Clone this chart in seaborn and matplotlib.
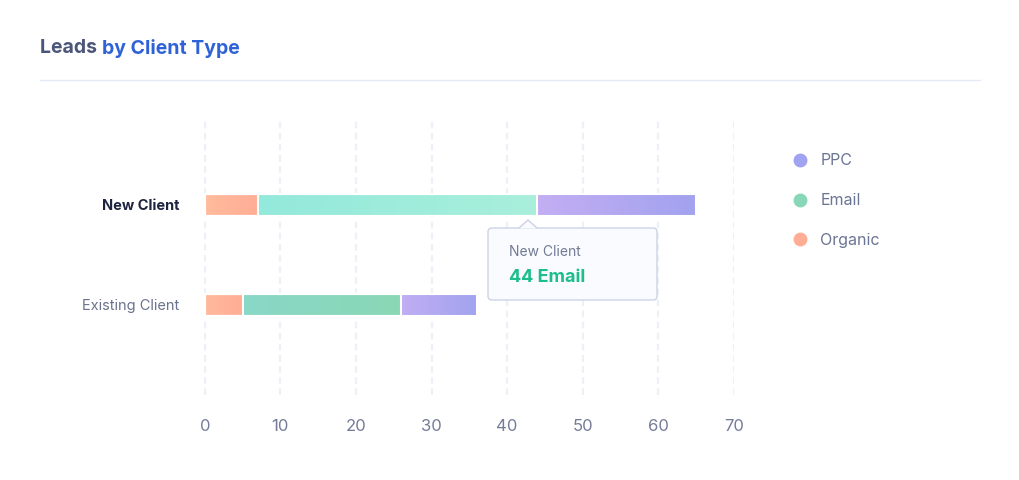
import numpy as np
import pandas as pd
import matplotlib.pyplot as plt
from matplotlib.colors import LinearSegmentedColormap
from matplotlib.patches import FancyBboxPatch, Polygon
from matplotlib.lines import Line2D
from matplotlib.transforms import IdentityTransform
import seaborn as sns

# data
clients = ['New Client', 'Existing Client']
organic = [7, 5]
email = [37, 21]
ppc = [21, 10]
xticks = [0, 10, 20, 30, 40, 50, 60, 70]
legend_names = ['PPC', 'Email', 'Organic']

# gradient colours per segment (left, right), one pair per client
organic_cols = [('#ffbb9c', '#ffad96'), ('#ffb99b', '#ffad96')]
email_cols = [('#93e9db', '#a9efdc'), ('#89d7c7', '#8ad8b5')]
ppc_cols = [('#c3aef3', '#a2a2ef'), ('#c0aef3', '#a2a3ef')]
legend_cols = ['#a0a3f0', '#88d8b8', '#ffae95']

sns.set_theme(style='white')
plt.rcParams['font.family'] = ['Inter', 'DejaVu Sans']

df = pd.DataFrame({'client': clients, 'Organic': organic, 'Email': email, 'PPC': ppc})
df['org_end'] = df['Organic']
df['email_end'] = df['Organic'] + df['Email']
df['ppc_end'] = df['email_end'] + df['PPC']

W, H = 1020, 480
fig = plt.figure(figsize=(W / 100, H / 100), dpi=100)
ax = fig.add_axes([204 / W, 1 - 395 / H, 530 / W, 276 / H])

# stacked bars: draw cumulative totals back to front
layers = [('ppc_end', 'email_end', ppc_cols),
          ('email_end', 'org_end', email_cols),
          ('org_end', None, organic_cols)]
for end_col, start_col, cols in layers:
    n0 = len(ax.patches)
    sns.barplot(data=df, x=end_col, y='client', ax=ax, width=0.215,
                color='white', edgecolor='white', linewidth=1.5, zorder=3)
    new = ax.patches[n0:]
    for i, p in enumerate(new):
        p.set_facecolor('none')
        p.set_zorder(4)
        x0 = 0 if start_col is None else df[start_col].iloc[i]
        x1 = df[end_col].iloc[i]
        bb = p.get_bbox()
        cmap = LinearSegmentedColormap.from_list('g', cols[i])
        grad = np.linspace(0, 1, 256).reshape(1, -1)
        im = ax.imshow(grad, cmap=cmap, aspect='auto', zorder=3,
                       extent=[x0, x1, bb.y1, bb.y0], interpolation='bilinear')
        im.set_clip_path(p)

ax.set_xlim(-0.1, 70)
ax.set_ylim(1.9, -0.86)
ax.set_xticks(xticks)
ax.set_xlabel('')
ax.set_ylabel('')
for s in ax.spines.values():
    s.set_visible(False)
ax.grid(axis='x', color='#edf0f7', linestyle=(0, (3, 2)), linewidth=1.6, zorder=0)
ax.grid(axis='y', visible=False)
ax.tick_params(axis='x', length=0, pad=17, labelsize=12, labelcolor='#747c98')
ax.tick_params(axis='y', length=0, pad=18, labelsize=10.5)
ylabels = ax.get_yticklabels()
ylabels[0].set_color('#1e2340')
ylabels[0].set_fontweight('bold')
ylabels[1].set_color('#6b728c')

# legend
handles = [Line2D([], [], marker='o', ls='', color=c, markersize=9) for c in legend_cols]
fig.legend(handles, legend_names, loc='upper left',
           bbox_to_anchor=(770 / W, 1 - 139 / H), frameon=False,
           labelspacing=1.55, handletextpad=0.25, fontsize=11.5, labelcolor='#6b7594')

# title
t1 = fig.text(40 / W, 1 - 48 / H, 'Leads ', fontsize=14, fontweight='bold',
              color='#4b5679', va='center', ha='left')
fig.canvas.draw()
bb1 = t1.get_window_extent()
fig.text(bb1.x1 / W, 1 - 48 / H, 'by Client Type', fontsize=14, fontweight='bold',
         color='#2f62d6', va='center', ha='left')
fig.add_artist(Line2D([40 / W, 980 / W], [1 - 80 / H, 1 - 80 / H],
                      color='#e3ebf6', lw=1, transform=fig.transFigure))

# tooltip
tip_face = '#f9fbfe'
tip_edge = '#cdd3e6'
box = FancyBboxPatch((488, H - 300), 169, 72, boxstyle='round,pad=0,rounding_size=4',
                     facecolor=tip_face, edgecolor=tip_edge, lw=1,
                     transform=IdentityTransform(), zorder=10)
fig.add_artist(box)
tri = Polygon([(519, H - 228.5), (528, H - 220), (537, H - 228.5)], closed=True,
              facecolor=tip_face, edgecolor='none', transform=IdentityTransform(), zorder=11)
fig.add_artist(tri)
fig.add_artist(Line2D([519, 528, 537], [H - 228, H - 220, H - 228], color=tip_edge, lw=1,
                      transform=IdentityTransform(), zorder=12))
fig.text(509 / W, 1 - 252 / H, 'New Client', fontsize=10, color='#717a93',
         va='center', ha='left', zorder=13)
fig.text(509 / W, 1 - 277 / H, '44 Email', fontsize=13, fontweight='bold', color='#1ebd8c',
         va='center', ha='left', zorder=13)

fig.savefig('out.png', dpi=100, facecolor='white')
